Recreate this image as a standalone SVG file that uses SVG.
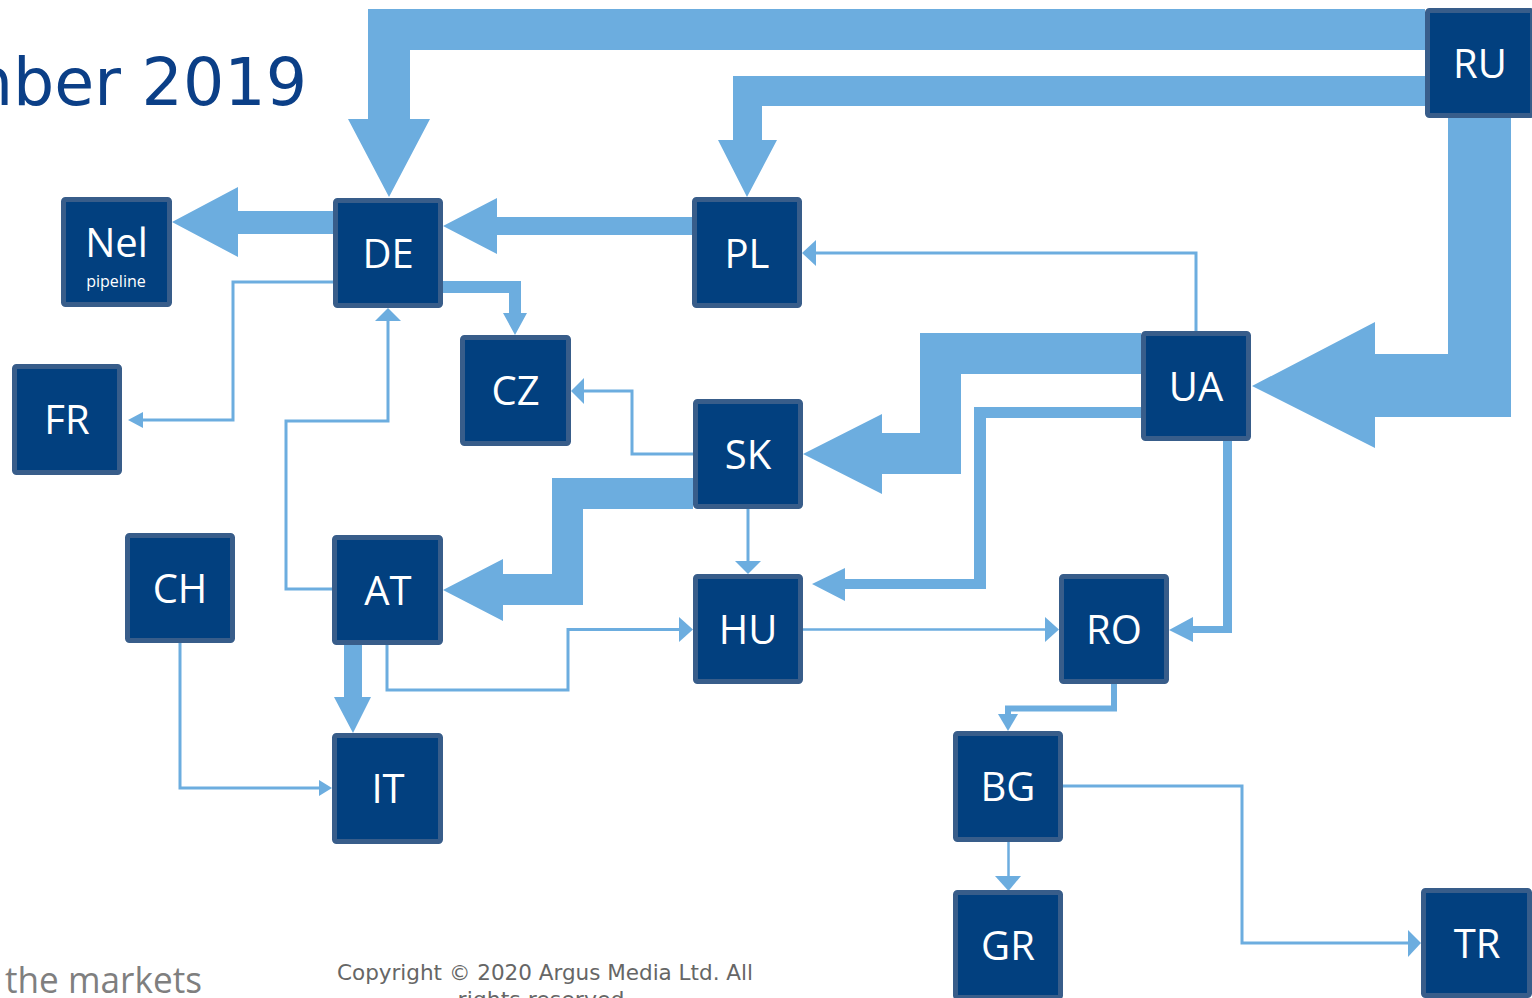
<svg xmlns="http://www.w3.org/2000/svg" width="1532" height="998" viewBox="0 0 1532 998">
<style>
.bg{fill:#ffffff}
.box{fill:#02407F;stroke:#385D8A;stroke-width:5}
.lbl{font-family:"Open Sans","Noto Sans",sans-serif;font-size:40px;fill:#ffffff;text-anchor:middle}
.sub{font-family:"Open Sans","Noto Sans",sans-serif;font-size:16px;fill:#ffffff;text-anchor:middle}
.flow{fill:#6CADDF}
.thin{fill:none;stroke:#6CADDF;stroke-width:3}
.title{font-family:"DejaVu Sans",sans-serif;font-size:65px;fill:#0B3F87;text-anchor:end}
.foot{font-family:"DejaVu Sans",sans-serif;font-size:22px;fill:#666666;text-anchor:middle}
.mk{font-family:"Open Sans","Noto Sans",sans-serif;font-size:36px;fill:#7F7F7F}
</style>
<rect class="bg" x="0" y="0" width="1532" height="998"/>
<text class="title" x="307" y="105">mber 2019</text>
<g id="connectors">
  <polygon class="flow" points="1425,9 368,9 368,119 348,119 389,197 430,119 410,119 410,50 1425,50"/>
  <polygon class="flow" points="1425,76 733,76 733,140 718,140 747,197 777,140 762,140 762,106 1425,106"/>
  <polygon class="flow" points="1448,118 1448,354 1375,354 1375,322 1252,386 1375,448 1375,417 1511,417 1511,118"/>
  <polygon class="flow" points="1141,333 920,333 920,433 882,433 882,414 803,454 882,494 882,474 961,474 961,374 1141,374"/>
  <polygon class="flow" points="693,478 552,478 552,574 503,574 503,559 443,590 503,621 503,605 583,605 583,509 693,509"/>
  <polygon class="flow" points="692,217 497,217 497,198 443,226 497,254 497,235 692,235"/>
  <polygon class="flow" points="333,211 238,211 238,187 172,222 238,257 238,234 333,234"/>
  <polygon class="flow" points="443,281 521,281 521,313 527,313 515,335 503,313 509,313 509,293 443,293"/>
  <polygon class="flow" points="344,645 344,697 334,697 353,733 371,697 362,697 362,645"/>
  <polygon class="flow" points="1141,407 974,407 974,579 845,579 845,568 812,584 845,601 845,589 986,589 986,418 1141,418"/>
  <polygon class="flow" points="1223,441 1223,626 1193,626 1193,617 1169,630 1193,642 1193,633 1232,633 1232,441"/>
  <path class="thin" d="M1196,331 V253 H816"/>
  <polygon class="flow" points="816,240 802,253 816,266"/>
  <path class="thin" d="M333,282 H233 V420 H143"/>
  <polygon class="flow" points="143,412 128,420 143,428"/>
  <path class="thin" d="M332,589 H286 V421 H388 V321"/>
  <polygon class="flow" points="375,321 388,308 401,321"/>
  <path class="thin" d="M693,454 H632 V391 H584"/>
  <polygon class="flow" points="584,378 571,391 584,404"/>
  <path class="thin" d="M748,509 V561"/>
  <polygon class="flow" points="735,561 748,574 761,561"/>
  <path class="thin" d="M387,645 V690 H568 V629.5 H679"/>
  <polygon class="flow" points="679,617 693,629.5 679,642"/>
  <path class="thin" d="M803,629.5 H1045" style="stroke-width:2.5"/>
  <polygon class="flow" points="1045,617 1059,629.5 1045,642"/>
  <path class="thin" d="M180,643 V788 H319"/>
  <polygon class="flow" points="319,780 332,788 319,796"/>
  <path class="thin" d="M1114,684 V708.5 H1008 V715" style="stroke-width:6"/>
  <polygon class="flow" points="998,714 1008,731 1018,714"/>
  <path class="thin" d="M1008.5,842 V877" style="stroke-width:2.5"/>
  <polygon class="flow" points="995,876 1008.5,891 1021,876"/>
  <path class="thin" d="M1063,786 H1242 V943 H1408"/>
  <polygon class="flow" points="1408,930 1421,943 1408,957"/>
</g>
<g id="node-Nel"><rect class="box" x="63.5" y="199.5" width="106" height="105" rx="2"/><text class="lbl" x="116.5" y="257">Nel</text><text class="sub" x="116" y="287">pipeline</text></g>
<g id="node-DE"><rect class="box" x="335.5" y="200.5" width="105" height="105" rx="2"/><text class="lbl" x="388" y="268">DE</text></g>
<g id="node-PL"><rect class="box" x="694.5" y="199.5" width="105" height="106" rx="2"/><text class="lbl" x="747" y="268">PL</text></g>
<g id="node-CZ"><rect class="box" x="462.5" y="337.5" width="106" height="106" rx="2"/><text class="lbl" x="515.5" y="405">CZ</text></g>
<g id="node-SK"><rect class="box" x="695.5" y="401.5" width="105" height="105" rx="2"/><text class="lbl" x="748" y="469">SK</text></g>
<g id="node-HU"><rect class="box" x="695.5" y="576.5" width="105" height="105" rx="2"/><text class="lbl" x="748" y="644">HU</text></g>
<g id="node-RU"><rect class="box" x="1427.5" y="10.5" width="105" height="105" rx="2"/><text class="lbl" x="1480" y="78">RU</text></g>
<g id="node-UA"><rect class="box" x="1143.5" y="333.5" width="105" height="105" rx="2"/><text class="lbl" x="1196" y="401">UA</text></g>
<g id="node-RO"><rect class="box" x="1061.5" y="576.5" width="105" height="105" rx="2"/><text class="lbl" x="1114" y="644">RO</text></g>
<g id="node-BG"><rect class="box" x="955.5" y="733.5" width="105" height="106" rx="2"/><text class="lbl" x="1008" y="801">BG</text></g>
<g id="node-GR"><rect class="box" x="955.5" y="892.5" width="105" height="105" rx="2"/><text class="lbl" x="1008" y="960">GR</text></g>
<g id="node-TR"><rect class="box" x="1423.5" y="890.5" width="106" height="105" rx="2"/><text class="lbl" x="1477" y="958">TR</text></g>
<g id="node-FR"><rect class="box" x="14.5" y="366.5" width="105" height="106" rx="2"/><text class="lbl" x="67" y="434">FR</text></g>
<g id="node-CH"><rect class="box" x="127.5" y="535.5" width="105" height="105" rx="2"/><text class="lbl" x="180" y="603">CH</text></g>
<g id="node-AT"><rect class="box" x="334.5" y="537.5" width="106" height="105" rx="2"/><text class="lbl" x="388" y="605">AT</text></g>
<g id="node-IT"><rect class="box" x="334.5" y="735.5" width="106" height="106" rx="2"/><text class="lbl" x="388" y="803">IT</text></g>
<text class="mk" x="5" y="993" textLength="197" lengthAdjust="spacingAndGlyphs">the markets</text>
<text class="foot" x="545" y="980" textLength="416" lengthAdjust="spacingAndGlyphs">Copyright © 2020 Argus Media Ltd. All</text>
<text class="foot" x="541" y="1007">rights reserved</text>
</svg>
